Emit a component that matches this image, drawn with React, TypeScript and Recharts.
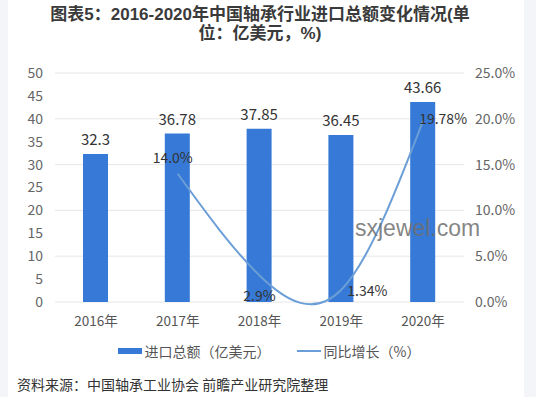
import React from 'react';
import {
  ComposedChart,
  Bar,
  Line,
  XAxis,
  YAxis,
  CartesianGrid,
  Legend,
  LabelList,
} from 'recharts';

const years = ['2016年', '2017年', '2018年', '2019年', '2020年'];
const importTotal = [32.3, 36.78, 37.85, 36.45, 43.66];
const growth: (number | null)[] = [null, 14.0, 2.9, 1.34, 19.78];
const growthLabels = ['', '14.0%', '2.9%', '1.34%', '19.78%'];
const leftTicks = [0, 5, 10, 15, 20, 25, 30, 35, 40, 45, 50];
const rightTicks = [0, 5, 10, 15, 20, 25];

const barName = '进口总额（亿美元）';
const lineName = '同比增长（%）';
const titleLines = ['图表5：2016-2020年中国轴承行业进口总额变化情况(单', '位：亿美元，%)'];

const data = years.map((year, i) => ({
  year,
  total: importTotal[i],
  growth: growth[i],
  growthLabel: growthLabels[i],
}));

const BAR_COLOR = '#3679d6';
const LINE_COLOR = '#6b9ed6';
const TEXT = '#333';
const FONT = '"Noto Sans CJK SC", "Noto Sans", sans-serif';

// label nudges for the growth line, by point
const growthOffsets = [
  [0, 0],
  [-5, -17],
  [0, 20],
  [26, 0],
  [20, -3],
];

function GrowthLabel(props: any) {
  const { x, y, index, value } = props;
  if (!value) return null;
  const [dx, dy] = growthOffsets[index] || [0, 0];
  return (
    <text
      x={x + dx}
      y={y + dy}
      textAnchor="middle"
      dominantBaseline="central"
      fill={TEXT}
      fontSize={14}
      fontFamily={FONT}
    >
      {value}
    </text>
  );
}

function LegendContent() {
  return (
    <div
      style={{
        display: 'flex',
        justifyContent: 'center',
        alignItems: 'center',
        fontFamily: FONT,
        fontSize: 14,
        color: '#555',
        paddingLeft: 2,
        paddingTop: 9,
      }}
    >
      <span style={{ display: 'inline-block', width: 24, height: 6, background: BAR_COLOR, marginRight: 3 }} />
      <span>{barName}</span>
      <span
        style={{ display: 'inline-block', width: 24, height: 2, background: LINE_COLOR, marginLeft: 26, marginRight: 3 }}
      />
      <span>{lineName}</span>
    </div>
  );
}

const titleStyle: React.CSSProperties = {
  position: 'absolute',
  left: 0,
  width: 520,
  height: 19,
  textAlign: 'center',
  fontFamily: '"Liberation Sans", "Noto Sans CJK SC", sans-serif',
  fontWeight: 'bold',
  fontSize: 17,
  lineHeight: '19px',
  color: '#3a3a3a',
  whiteSpace: 'nowrap',
};

export default function App() {
  return (
    <div
      style={{
        position: 'absolute',
        left: 0,
        top: 0,
        width: 536,
        height: 397,
        background: '#f3f5f8',
        overflow: 'hidden',
      }}
    >
      <div style={{ position: 'absolute', left: 8, top: 0, width: 516, height: 397, background: '#fff' }} />
      <div style={{ ...titleStyle, top: 5 }}>{titleLines[0]}</div>
      <div style={{ ...titleStyle, top: 24 }}>{titleLines[1]}</div>
      <div style={{ position: 'absolute', left: 0, top: 0 }}>
        <ComposedChart
          width={536}
          height={370}
          data={data}
          margin={{ top: 73, right: 0, bottom: 0, left: 0 }}
        >
          <CartesianGrid vertical={false} stroke="#e6e6e6" yAxisId="left" />
          <XAxis
            dataKey="year"
            axisLine={false}
            tickLine={false}
            height={30}
            tickMargin={8}
            tick={{ fill: '#555', fontSize: 13.5, fontFamily: FONT }}
          />
          <YAxis
            yAxisId="left"
            domain={[0, 50]}
            ticks={leftTicks}
            width={55}
            axisLine={false}
            tickLine={false}
            tickMargin={6}
            tick={{ fill: '#666', fontSize: 14, fontFamily: FONT }}
          />
          <YAxis
            yAxisId="right"
            orientation="right"
            domain={[0, 25]}
            ticks={rightTicks}
            width={72}
            axisLine={false}
            tickLine={false}
            tickMargin={5}
            tickFormatter={(v: number) => `${v.toFixed(1)}%`}
            tick={{ fill: '#666', fontSize: 14, fontFamily: FONT, textAnchor: 'start' }}
          />
          <Legend verticalAlign="bottom" height={38} content={<LegendContent />} />
          <Line
            yAxisId="right"
            type="natural"
            dataKey="growth"
            name={lineName}
            stroke={LINE_COLOR}
            strokeWidth={2}
            dot={false}
            activeDot={false}
            isAnimationActive={false}
          />
          <Bar
            yAxisId="left"
            dataKey="total"
            name={barName}
            fill={BAR_COLOR}
            barSize={25}
            isAnimationActive={false}
          >
            <LabelList
              dataKey="total"
              position="top"
              offset={9}
              fill={TEXT}
              fontSize={15}
              fontFamily={FONT}
            />
          </Bar>
          {/* transparent copy so the growth labels sit above the bars */}
          <Line
            yAxisId="right"
            type="natural"
            dataKey="growth"
            stroke="none"
            dot={false}
            activeDot={false}
            legendType="none"
            isAnimationActive={false}
          >
            <LabelList dataKey="growthLabel" content={<GrowthLabel />} />
          </Line>
        </ComposedChart>
      </div>
      <div
        style={{
          position: 'absolute',
          left: 355,
          top: 215,
          fontFamily: '"Liberation Sans", Arial, sans-serif',
          fontSize: 23,
          color: 'rgba(110,110,110,0.85)',
        }}
      >
        sxjewel.com
      </div>
      <div
        style={{
          position: 'absolute',
          left: 17,
          top: 374,
          fontFamily: FONT,
          fontSize: 14,
          color: TEXT,
          whiteSpace: 'nowrap',
        }}
      >
        资料来源：中国轴承工业协会 前瞻产业研究院整理
      </div>
    </div>
  );
}
